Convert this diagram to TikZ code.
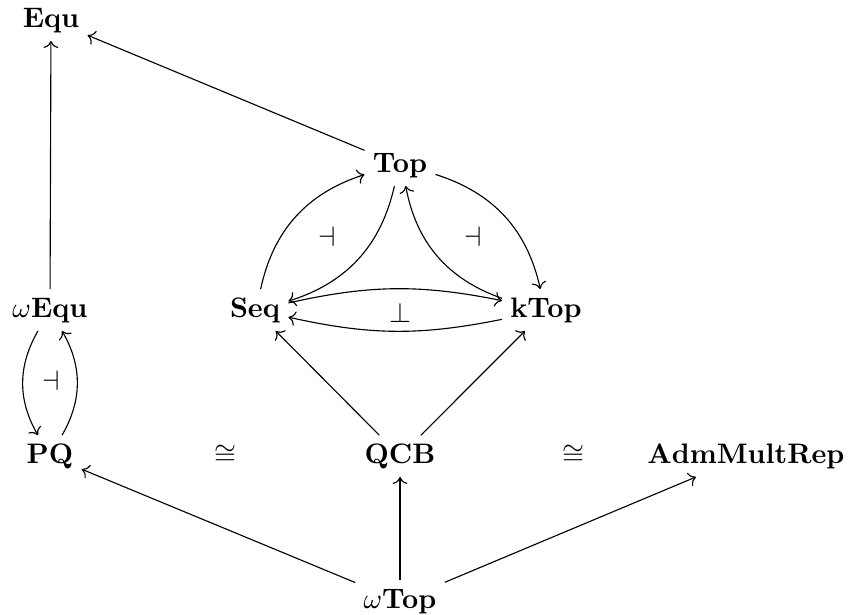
\documentclass[tikz,border=0pt]{standalone}
\usetikzlibrary{arrows.meta}
\begin{document}
\begin{tikzpicture}[x=0.3546pt,y=-0.3546pt,
  obj/.style={anchor=base,inner sep=2.8pt,font=\normalsize},
  lab/.style={inner sep=0pt},
  arr/.style={-{Computer Modern Rightarrow},line width=0.4pt}]
\useasboundingbox (0,0) rectangle (853,614);
\node[obj] (Equ) at (51,27) {$\mathbf{Equ}$};
\node[obj] (Top) at (400,172) {$\mathbf{Top}$};
\node[obj] (wEqu) at (50,317) {$\omega\mathbf{Equ}$};
\node[obj] (Seq) at (255,317) {$\mathbf{Seq}$};
\node[obj] (kTop) at (546,317) {$\mathbf{kTop}$};
\node[obj] (PQ) at (50,463) {$\mathbf{PQ}$};
\node[obj] (iso1) at (225,463) {$\cong$};
\node[obj] (QCB) at (400,463) {$\mathbf{QCB}$};
\node[obj] (iso2) at (573,463) {$\cong$};
\node[obj] (AMR) at (746,463) {$\mathbf{AdmMultRep}$};
\node[obj] (wTop) at (400,608) {$\omega\mathbf{Top}$};
\node[lab] (adj1) at (327,237) {$\dashv$};
\node[lab] (adj2) at (473,237) {$\dashv$};
\node[lab] (adj3) at (400,313) {$\perp$};
\node[lab] (adj4) at (51,381) {$\dashv$};
\draw[arr] (wEqu) -- (Equ);
\draw[arr] (Top) -- (Equ);
\draw[arr] (Seq) to[bend left=30] (Top);
\draw[arr] (Top) to[bend left=30] (Seq);
\draw[arr] (Top) to[bend left=30] (kTop);
\draw[arr] (kTop) to[bend left=30] (Top);
\draw[arr] (Seq) to[bend left=12] (kTop);
\draw[arr] (kTop) to[bend left=12] (Seq);
\draw[arr] (wEqu) to[bend right=30] (PQ);
\draw[arr] (PQ) to[bend right=30] (wEqu);
\draw[arr] (QCB) -- (Seq);
\draw[arr] (QCB) -- (kTop);
\draw[arr] (wTop) -- (PQ);
\draw[arr] (wTop) -- (QCB);
\draw[arr] (wTop) -- (AMR);
\end{tikzpicture}
\end{document}
